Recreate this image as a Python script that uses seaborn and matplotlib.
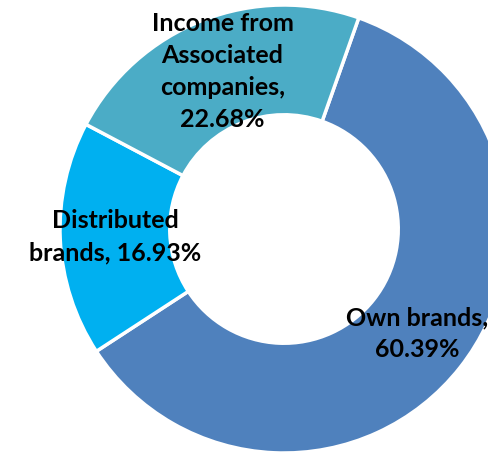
import numpy as np
import matplotlib
matplotlib.use("Agg")
import matplotlib.pyplot as plt
import seaborn as sns

# Revenue split
categories = ["Own brands", "Distributed brands", "Income from Associated companies"]
shares = [60.39, 16.93, 22.68]
label_lines = ["Own brands,\n{:.2f}%", "Distributed\nbrands, {:.2f}%", "Income from\nAssociated\ncompanies,\n{:.2f}%"]
colors = ["#4F81BD", "#00B0F0", "#4BACC6"]

sns.set_theme(style="white")
plt.rcParams["font.family"] = ["Lato", "DejaVu Sans"]

fig = plt.figure(figsize=(4.88, 4.55), dpi=100)
ax = fig.add_axes([0, 0, 1, 1])

wedges, _ = ax.pie(
    shares,
    colors=colors,
    startangle=70.5,
    counterclock=False,
    radius=1.0,
    wedgeprops=dict(width=0.49, edgecolor="white", linewidth=2.5),
)

# Labels centred in the ring at each wedge's mid-angle
for w, tmpl, val in zip(wedges, label_lines, shares):
    mid = np.deg2rad((w.theta1 + w.theta2) / 2)
    r = 0.755
    ax.text(r * np.cos(mid), r * np.sin(mid), tmpl.format(val),
            ha="center", va="center", multialignment="center",
            fontsize=18, fontweight="bold", color="black", linespacing=1.48)

ax.set_xlim(-284 / 224, (488 - 284) / 224)
ax.set_ylim((229 - 455) / 224, 229 / 224)
ax.set_aspect("auto")
ax.axis("off")

fig.savefig("out.png", dpi=100, facecolor="white")
